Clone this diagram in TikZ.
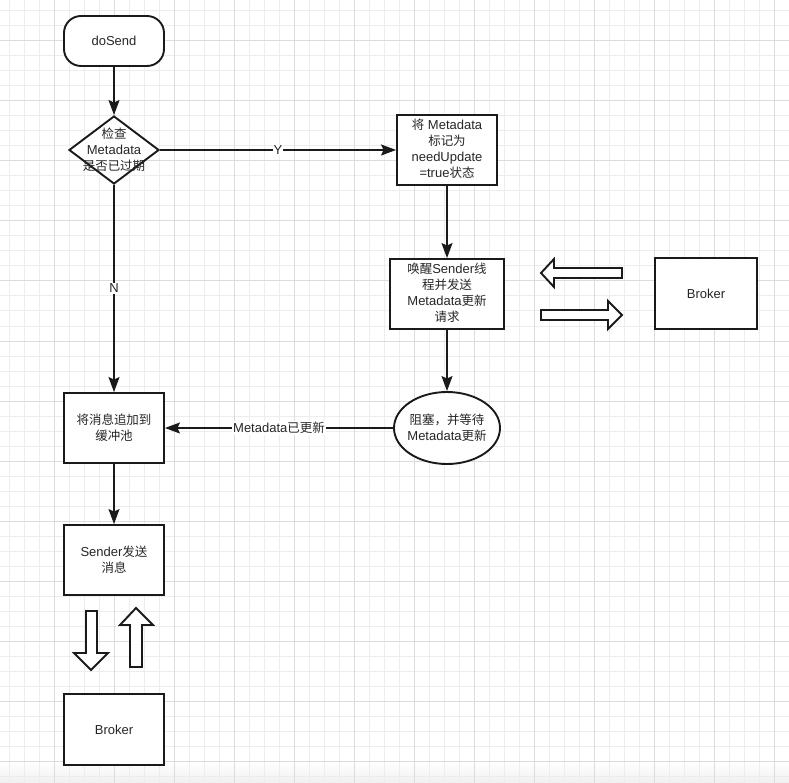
\documentclass[tikz,border=0pt]{standalone}
\usepackage{fontspec}
\setmainfont{Liberation Sans}
\newfontfamily\cjk[Scale=0.96]{Noto Sans CJK SC}
\newcommand\zh[1]{{\cjk #1}}
\usetikzlibrary{shapes.geometric,arrows.meta}
\definecolor{ink}{HTML}{1A1A1A}
\definecolor{txtc}{HTML}{262626}
\definecolor{gridminor}{HTML}{EDEDED}
\definecolor{gridmajor}{HTML}{DCDCDC}
\begin{document}
\begin{tikzpicture}[x=1pt,y=-1pt,
  box/.style={draw=ink, line width=1.9pt, fill=white, inner sep=0pt},
  lbl/.style={text=txtc, font=\fontsize{13}{16}\selectfont, align=center, inner sep=0pt},
  conn/.style={draw=ink, line width=1.5pt, -{Stealth[length=15pt,width=11pt,inset=2.5pt]}},
  edgelbl/.style={fill=white, text=txtc, font=\fontsize{13}{16}\selectfont, inner sep=1pt},
  blockarrow/.style={draw=ink, line width=1.9pt, fill=white, line join=miter}
]
\useasboundingbox (0,0) rectangle (789,783);
\fill[white] (0,0) rectangle (789,783);
\shade[top color=white, bottom color=black!6] (0,762) rectangle (789,783);
% grid
\foreach \x in {9,24,...,789} \draw[gridminor, line width=1pt] (\x,0) -- (\x,783);
\foreach \y in {11,26,...,783} \draw[gridminor, line width=1pt] (0,\y) -- (789,\y);
\foreach \x in {54,114,...,789} \draw[gridmajor, line width=1pt] (\x,0) -- (\x,783);
\foreach \y in {41,101,...,783} \draw[gridmajor, line width=1pt] (0,\y) -- (789,\y);

% nodes
\node[box, rounded corners=17pt, minimum width=100pt, minimum height=50pt] (start) at (114,41) {};
\node[lbl] at (start) {doSend};

\node[box, diamond, minimum width=90pt, minimum height=68pt] (chk) at (114,150) {};
\node[lbl] at (chk) {\zh{检查}\\Metadata\\\zh{是否已过期}};

\node[box, minimum width=100pt, minimum height=70pt] (mark) at (447,150) {};
\node[lbl] at ([yshift=1pt]mark) {\zh{将} Metadata\\\zh{标记为}\\needUpdate\\=true\zh{状态}};

\node[box, minimum width=114pt, minimum height=70pt] (wake) at (447,294) {};
\node[lbl] at ([yshift=1pt]wake) {\zh{唤醒}Sender\zh{线}\\\zh{程并发送}\\Metadata\zh{更新}\\\zh{请求}};

\node[box, minimum width=102pt, minimum height=71pt] (brk1) at (706,293.5) {};
\node[lbl] at (brk1) {Broker};

\node[box, ellipse, minimum width=106pt, minimum height=72pt] (blk) at (447,428) {};
\node[lbl] at (blk) {\zh{阻塞，并等待}\\Metadata\zh{更新}};

\node[box, minimum width=100pt, minimum height=70pt] (app) at (114,428) {};
\node[lbl] at (app) {\zh{将消息追加到}\\\zh{缓冲池}};

\node[box, minimum width=100pt, minimum height=70pt] (send) at (114,560) {};
\node[lbl] at (send) {Sender\zh{发送}\\\zh{消息}};

\node[box, minimum width=100pt, minimum height=71pt] (brk2) at (114,729.5) {};
\node[lbl] at (brk2) {Broker};

% connectors
\draw[conn] (start) -- (chk);
\draw[conn] (chk) -- node[edgelbl]{Y} (mark);
\draw[conn] (mark) -- (wake);
\draw[conn] (wake) -- (blk);
\draw[conn] (chk) -- node[edgelbl]{N} (app);
\draw[conn] (blk) -- node[edgelbl]{Metadata\zh{已更新}} (app);
\draw[conn] (app) -- (send);

% block arrows
\draw[blockarrow] (541,273) -- (554,259) -- (554,268) -- (622,268) -- (622,278) -- (554,278) -- (554,287) -- cycle;
\draw[blockarrow] (622,315) -- (608,301) -- (608,310) -- (541,310) -- (541,320) -- (608,320) -- (608,329) -- cycle;
\draw[blockarrow] (91,670) -- (74,653) -- (86,653) -- (86,611) -- (97,611) -- (97,653) -- (108,653) -- cycle;
\draw[blockarrow] (136,608) -- (153,625) -- (142,625) -- (142,667) -- (130,667) -- (130,625) -- (120,625) -- cycle;
\end{tikzpicture}
\end{document}
